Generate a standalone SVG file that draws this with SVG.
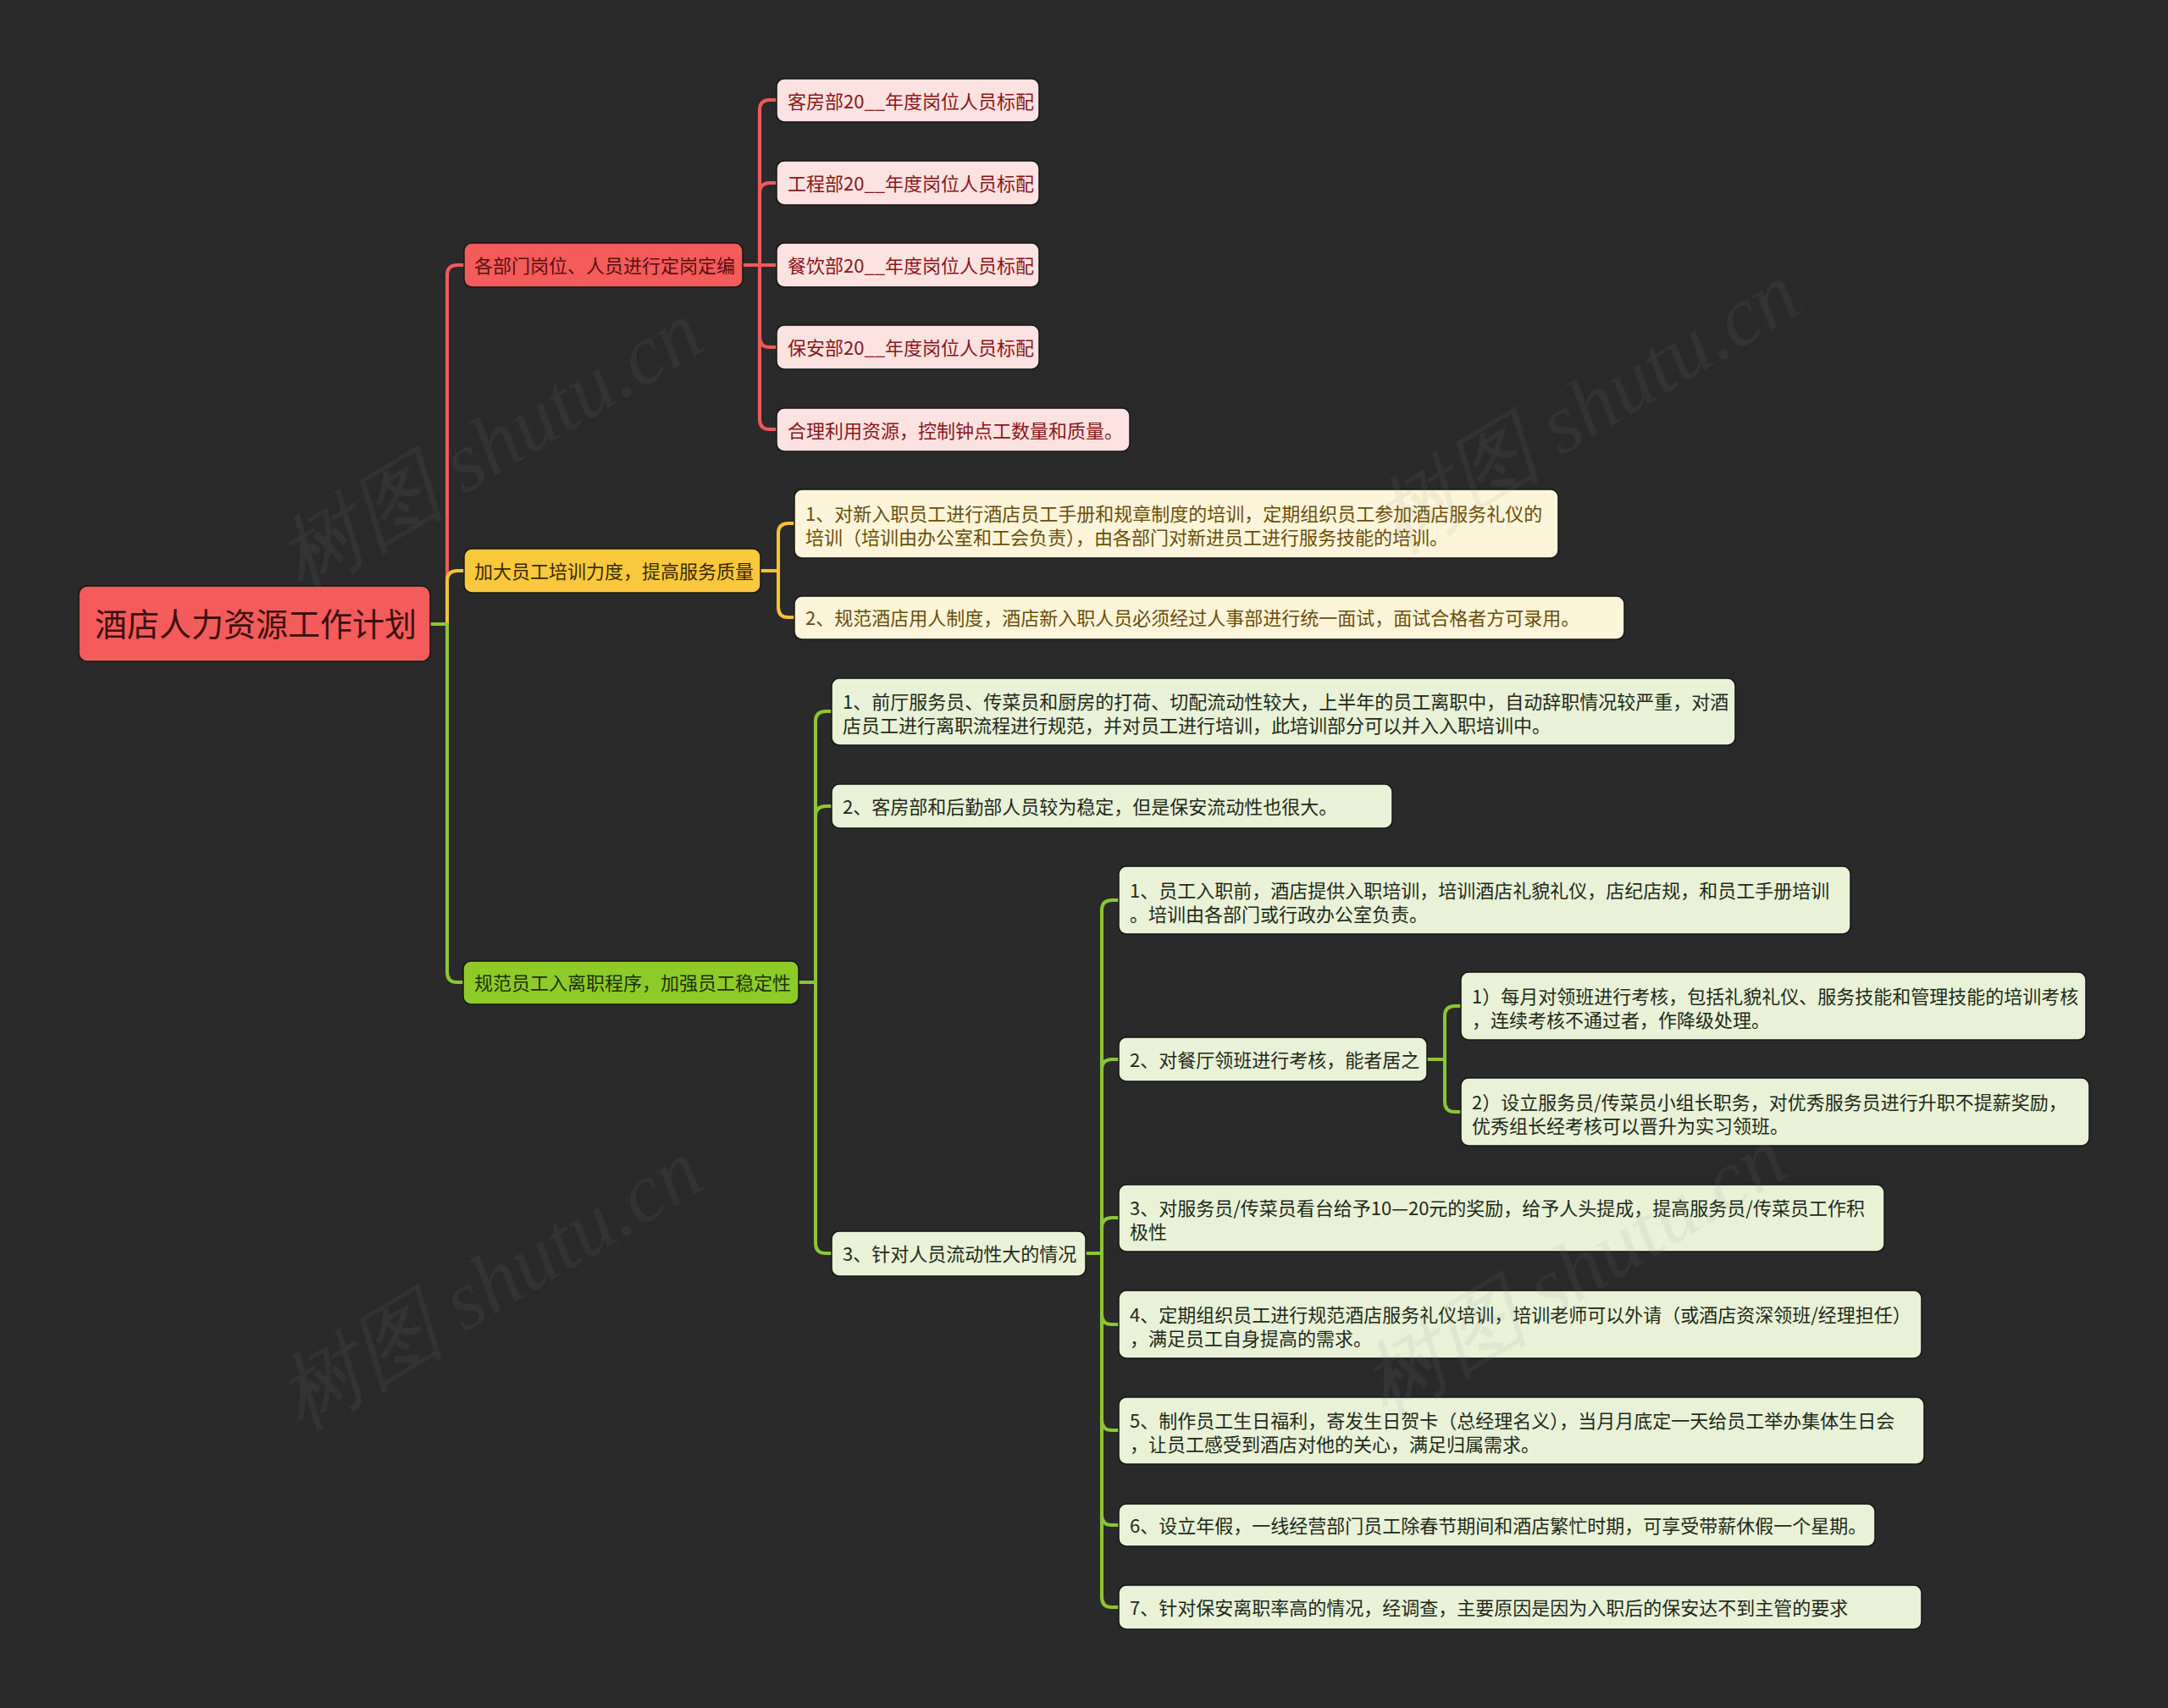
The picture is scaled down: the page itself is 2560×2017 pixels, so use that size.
<svg xmlns="http://www.w3.org/2000/svg" width="2560" height="2017" viewBox="0 0 2560 2017">
<style>
text{font-family:"Noto Sans CJK SC","Noto Sans",sans-serif;font-size:22px}
.box{stroke:#161616;stroke-width:1.5}
.root rect{fill:#f45b5b}
.root text{font-size:38px;fill:#3d0f0f}
.r1 rect{fill:#f45b5b}.r1 text{fill:#5a0f0f}
.r2 rect{fill:#fde2e2}.r2 text{fill:#8a1717}
.y1 rect{fill:#fac83c}.y1 text{fill:#3a2a00}
.y2 rect{fill:#fdf5d9}.y2 text{fill:#6b4e0a}
.g1 rect{fill:#8ecb29}.g1 text{fill:#1f3204}
.g2 rect{fill:#e9f2d7}.g2 text{fill:#222a18}
.c{fill:none;stroke-width:4;stroke-linejoin:round}
.cr{stroke:#f05a5a}.cy{stroke:#f6c23a}.cg{stroke:#8bc634}
.wm{font-family:"Liberation Serif",serif;font-style:italic;font-size:100px;fill:#8a8a8a;fill-opacity:0.1}
</style>
<rect x="0" y="0" width="2560" height="2017" fill="#2a2a2a"/>

<g id="connectors">
<path class="c cr" d="M508 737 H528 V325 Q528 313 540 313 H548"/>
<path class="c cy" d="M508 737 H528 V686 Q528 674 540 674 H548"/>
<path class="c cg" d="M508 737 H528 V1148 Q528 1160 540 1160 H548"/>
<path class="c cr" d="M877 313 H897 V130 Q897 118 909 118 H917"/>
<path class="c cr" d="M877 313 H897 V228 Q897 216 909 216 H917"/>
<path class="c cr" d="M877 313 H917"/>
<path class="c cr" d="M877 313 H897 V398 Q897 410 909 410 H917"/>
<path class="c cr" d="M877 313 H897 V495 Q897 507 909 507 H917"/>
<path class="c cy" d="M898 674 H919 V630 Q919 618 931 618 H938"/>
<path class="c cy" d="M898 674 H919 V717 Q919 729 931 729 H938"/>
<path class="c cg" d="M943 1160 H963 V852 Q963 840 975 840 H982"/>
<path class="c cg" d="M943 1160 H963 V964 Q963 952 975 952 H982"/>
<path class="c cg" d="M943 1160 H963 V1468 Q963 1480 975 1480 H982"/>
<path class="c cg" d="M1282 1480 H1301 V1075 Q1301 1063 1313 1063 H1321"/>
<path class="c cg" d="M1282 1480 H1301 V1263 Q1301 1251 1313 1251 H1321"/>
<path class="c cg" d="M1282 1480 H1301 V1450 Q1301 1438 1313 1438 H1321"/>
<path class="c cg" d="M1282 1480 H1301 V1552 Q1301 1564 1313 1564 H1321"/>
<path class="c cg" d="M1282 1480 H1301 V1677 Q1301 1689 1313 1689 H1321"/>
<path class="c cg" d="M1282 1480 H1301 V1789 Q1301 1801 1313 1801 H1321"/>
<path class="c cg" d="M1282 1480 H1301 V1886 Q1301 1898 1313 1898 H1321"/>
<path class="c cg" d="M1685 1251 H1706 V1200 Q1706 1188 1718 1188 H1725"/>
<path class="c cg" d="M1685 1251 H1706 V1301 Q1706 1313 1718 1313 H1725"/>
</g>

<g id="root" class="root"><rect class="box" x="93" y="692" width="415" height="89" rx="10"/><text x="112" y="751">酒店人力资源工作计划</text></g>

<g id="n-dept" class="r1"><rect class="box" x="548" y="287" width="329" height="52" rx="9"/><text x="560" y="322">各部门岗位、人员进行定岗定编</text></g>
<g id="n-train" class="y1"><rect class="box" x="548" y="648" width="350" height="52" rx="9"/><text x="560" y="683">加大员工培训力度，提高服务质量</text></g>
<g id="n-stable" class="g1"><rect class="box" x="547" y="1135" width="396" height="51" rx="9"/><text x="560" y="1169">规范员工入离职程序，加强员工稳定性</text></g>

<g id="r-1" class="r2"><rect class="box" x="917" y="93" width="310" height="51" rx="9"/><text x="930" y="128">客房部20__年度岗位人员标配</text></g>
<g id="r-2" class="r2"><rect class="box" x="917" y="190" width="310" height="52" rx="9"/><text x="930" y="225">工程部20__年度岗位人员标配</text></g>
<g id="r-3" class="r2"><rect class="box" x="917" y="287" width="310" height="52" rx="9"/><text x="930" y="322">餐饮部20__年度岗位人员标配</text></g>
<g id="r-4" class="r2"><rect class="box" x="917" y="384" width="310" height="52" rx="9"/><text x="930" y="419">保安部20__年度岗位人员标配</text></g>
<g id="r-5" class="r2"><rect class="box" x="917" y="482" width="417" height="51" rx="9"/><text x="930" y="517">合理利用资源，控制钟点工数量和质量。</text></g>

<g id="y-1" class="y2"><rect class="box" x="938" y="578" width="902" height="81" rx="9"/><text x="951" y="615">1、对新入职员工进行酒店员工手册和规章制度的培训，定期组织员工参加酒店服务礼仪的</text><text x="951" y="643">培训（培训由办公室和工会负责），由各部门对新进员工进行服务技能的培训。</text></g>
<g id="y-2" class="y2"><rect class="box" x="938" y="704" width="980" height="51" rx="9"/><text x="951" y="738">2、规范酒店用人制度，酒店新入职人员必须经过人事部进行统一面试，面试合格者方可录用。</text></g>

<g id="g-1" class="g2"><rect class="box" x="982" y="801" width="1067" height="79" rx="9"/><text x="995" y="837">1、前厅服务员、传菜员和厨房的打荷、切配流动性较大，上半年的员工离职中，自动辞职情况较严重，对酒</text><text x="995" y="865">店员工进行离职流程进行规范，并对员工进行培训，此培训部分可以并入入职培训中。</text></g>
<g id="g-2" class="g2"><rect class="box" x="982" y="926" width="662" height="52" rx="9"/><text x="995" y="961">2、客房部和后勤部人员较为稳定，但是保安流动性也很大。</text></g>
<g id="g-3" class="g2"><rect class="box" x="982" y="1454" width="300" height="53" rx="9"/><text x="995" y="1489">3、针对人员流动性大的情况</text></g>

<g id="h-1" class="g2"><rect class="box" x="1321" y="1023" width="864" height="80" rx="9"/><text x="1334" y="1060">1、员工入职前，酒店提供入职培训，培训酒店礼貌礼仪，店纪店规，和员工手册培训</text><text x="1334" y="1088">。培训由各部门或行政办公室负责。</text></g>
<g id="h-2" class="g2"><rect class="box" x="1321" y="1225" width="364" height="52" rx="9"/><text x="1334" y="1260">2、对餐厅领班进行考核，能者居之</text></g>
<g id="h-3" class="g2"><rect class="box" x="1321" y="1399" width="904" height="79" rx="9"/><text x="1334" y="1435">3、对服务员/传菜员看台给予10—20元的奖励，给予人头提成，提高服务员/传菜员工作积</text><text x="1334" y="1463">极性</text></g>
<g id="h-4" class="g2"><rect class="box" x="1321" y="1524" width="948" height="80" rx="9"/><text x="1334" y="1561">4、定期组织员工进行规范酒店服务礼仪培训，培训老师可以外请（或酒店资深领班/经理担任）</text><text x="1334" y="1589">，满足员工自身提高的需求。</text></g>
<g id="h-5" class="g2"><rect class="box" x="1321" y="1650" width="951" height="79" rx="9"/><text x="1334" y="1686">5、制作员工生日福利，寄发生日贺卡（总经理名义），当月月底定一天给员工举办集体生日会</text><text x="1334" y="1714">，让员工感受到酒店对他的关心，满足归属需求。</text></g>
<g id="h-6" class="g2"><rect class="box" x="1321" y="1776" width="893" height="50" rx="9"/><text x="1334" y="1810">6、设立年假，一线经营部门员工除春节期间和酒店繁忙时期，可享受带薪休假一个星期。</text></g>
<g id="h-7" class="g2"><rect class="box" x="1321" y="1872" width="948" height="52" rx="9"/><text x="1334" y="1907">7、针对保安离职率高的情况，经调查，主要原因是因为入职后的保安达不到主管的要求</text></g>

<g id="i-1" class="g2"><rect class="box" x="1725" y="1148" width="738" height="80" rx="9"/><text x="1738" y="1185">1）每月对领班进行考核，包括礼貌礼仪、服务技能和管理技能的培训考核</text><text x="1738" y="1213">，连续考核不通过者，作降级处理。</text></g>
<g id="i-2" class="g2"><rect class="box" x="1725" y="1273" width="742" height="80" rx="9"/><text x="1738" y="1310">2）设立服务员/传菜员小组长职务，对优秀服务员进行升职不提薪奖励，</text><text x="1738" y="1338">优秀组长经考核可以晋升为实习领班。</text></g>

<g id="watermarks">
<text class="wm" transform="translate(355 700) rotate(-31)">树图 shutu.cn</text>
<text class="wm" transform="translate(1650 655) rotate(-31)">树图 shutu.cn</text>
<text class="wm" transform="translate(355 1690) rotate(-31)">树图 shutu.cn</text>
<text class="wm" transform="translate(1635 1675) rotate(-31)">树图 shutu.cn</text>
</g>
</svg>
